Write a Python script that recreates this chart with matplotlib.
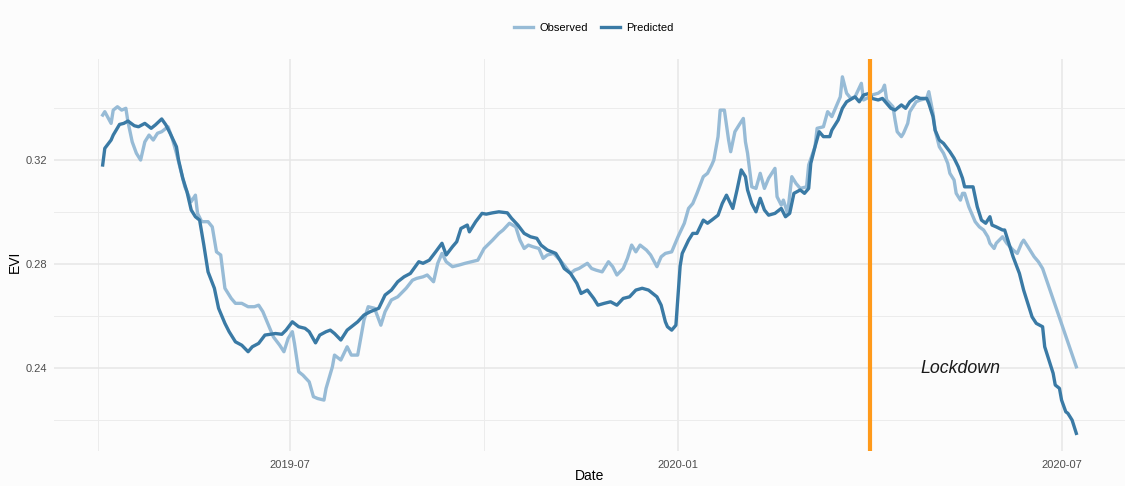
import matplotlib
matplotlib.use('Agg')
import matplotlib.pyplot as plt
import matplotlib.dates as mdates
from matplotlib.lines import Line2D
import pandas as pd

plt.rcParams['font.family'] = ['Liberation Sans', 'DejaVu Sans']

# ---- data (days since 2019-04-01, EVI) ----
base_date = '2019-04-01'
pred_day = [2, 3, 6, 7, 10, 12, 14, 17, 19, 22, 25, 27, 30, 32, 34, 37, 38, 40, 42, 44,
            46, 48, 50, 52, 55, 57, 60, 62, 65, 68, 71, 73, 76, 79, 84, 87, 89, 92, 95, 98,
            100, 103, 105, 108, 110, 112, 115, 118, 120, 123, 126, 129, 133, 136, 139, 142, 145, 148, 152, 154,
            157, 160, 163, 165, 168, 170, 172, 175, 176, 179, 182, 184, 187, 190, 194, 196, 199, 202, 205, 208,
            210, 213, 217, 219, 221, 224, 227, 229, 232, 235, 237, 240, 243, 246, 249, 252, 255, 258, 261, 265,
            267, 269, 270, 272, 274, 275, 276, 277, 280, 282, 284, 287, 289, 291, 294, 296, 298, 301, 303, 305,
            307, 308, 310, 312, 314, 316, 318, 321, 324, 326, 328, 330, 333, 335, 337, 338, 340, 342, 344, 347,
            348, 351, 353, 355, 359, 361, 363, 366, 367, 370, 372, 374, 376, 378, 381, 383, 385, 388, 390, 393,
            394, 396, 397, 399, 401, 404, 406, 408, 410, 411, 415, 417, 419, 421, 423, 424, 426, 429, 430, 432,
            434, 437, 439, 441, 443, 445, 448, 449, 451, 453, 454, 456, 457, 459, 460, 462, 464]
pred_evi = [0.3181, 0.3245, 0.3277, 0.3296, 0.3337, 0.3341, 0.3350, 0.3332, 0.3328, 0.3341,
            0.3322, 0.3335, 0.3358, 0.3335, 0.3303, 0.3251, 0.3200, 0.3130, 0.3078, 0.3008,
            0.2982, 0.2969, 0.2873, 0.2770, 0.2707, 0.2630, 0.2572, 0.2540, 0.2501, 0.2488,
            0.2463, 0.2482, 0.2495, 0.2527, 0.2533, 0.2530, 0.2546, 0.2578, 0.2559, 0.2553,
            0.2540, 0.2497, 0.2527, 0.2540, 0.2546, 0.2533, 0.2508, 0.2546, 0.2559, 0.2578,
            0.2604, 0.2617, 0.2630, 0.2681, 0.2700, 0.2732, 0.2751, 0.2764, 0.2809, 0.2803,
            0.2815, 0.2847, 0.2880, 0.2835, 0.2867, 0.2886, 0.2937, 0.2950, 0.2924, 0.2963,
            0.2995, 0.2992, 0.2997, 0.3001, 0.2997, 0.2976, 0.2950, 0.2918, 0.2905, 0.2899,
            0.2873, 0.2854, 0.2841, 0.2815, 0.2783, 0.2764, 0.2726, 0.2687, 0.2700, 0.2668,
            0.2642, 0.2649, 0.2655, 0.2642, 0.2668, 0.2674, 0.2700, 0.2707, 0.2700, 0.2674,
            0.2642, 0.2578, 0.2559, 0.2546, 0.2565, 0.2681, 0.2792, 0.2841, 0.2892, 0.2918,
            0.2918, 0.2969, 0.2957, 0.2969, 0.2988, 0.3033, 0.3065, 0.3014, 0.3085, 0.3162,
            0.3136, 0.3085, 0.3033, 0.3001, 0.3053, 0.3008, 0.2988, 0.2995, 0.3014, 0.2982,
            0.2995, 0.3072, 0.3085, 0.3072, 0.3091, 0.3187, 0.3251, 0.3309, 0.3290, 0.3290,
            0.3315, 0.3354, 0.3399, 0.3424, 0.3443, 0.3424, 0.3450, 0.3457, 0.3437, 0.3431,
            0.3437, 0.3418, 0.3399, 0.3392, 0.3412, 0.3399, 0.3424, 0.3443, 0.3437, 0.3437,
            0.3418, 0.3367, 0.3315, 0.3277, 0.3264, 0.3232, 0.3207, 0.3174, 0.3130, 0.3097,
            0.3097, 0.3020, 0.2969, 0.2957, 0.2982, 0.2950, 0.2943, 0.2931, 0.2931, 0.2880,
            0.2828, 0.2764, 0.2700, 0.2649, 0.2597, 0.2572, 0.2559, 0.2482, 0.2431, 0.2380,
            0.2335, 0.2322, 0.2277, 0.2232, 0.2226, 0.2200, 0.2149]

obs_day = [2, 3, 6, 7, 9, 11, 13, 14, 16, 18, 20, 22, 24, 26, 28, 30, 33, 35, 37, 39,
           41, 44, 46, 47, 49, 52, 54, 56, 58, 60, 63, 65, 68, 71, 74, 76, 78, 80, 83, 86,
           88, 90, 92, 93, 95, 97, 100, 102, 104, 107, 108, 111, 112, 115, 118, 120, 123, 126, 128, 131,
           134, 136, 139, 142, 146, 149, 151, 154, 156, 159, 161, 163, 165, 168, 171, 174, 177, 180, 183, 187,
           190, 192, 195, 198, 200, 202, 204, 206, 209, 211, 213, 216, 219, 221, 224, 226, 228, 232, 234, 236,
           239, 242, 244, 246, 249, 251, 253, 255, 257, 260, 262, 265, 267, 269, 272, 275, 278, 280, 282, 284,
           287, 289, 291, 292, 294, 295, 297, 299, 300, 302, 304, 306, 307, 308, 310, 312, 314, 316, 318, 321,
           322, 324, 325, 327, 329, 331, 333, 336, 337, 340, 341, 344, 346, 348, 350, 352, 353, 355, 357, 359,
           362, 363, 366, 367, 370, 372, 373, 374, 377, 378, 379, 381, 382, 384, 385, 388, 390, 393, 394, 396,
           397, 399, 401, 403, 404, 406, 407, 409, 410, 411, 413, 415, 416, 418, 420, 422, 423, 425, 426, 429,
           431, 434, 436, 438, 439, 441, 444, 446, 448, 464]
obs_evi = [0.3373, 0.3386, 0.3341, 0.3392, 0.3405, 0.3392, 0.3399, 0.3347, 0.3270, 0.3226,
           0.3200, 0.3270, 0.3296, 0.3277, 0.3303, 0.3309, 0.3328, 0.3283, 0.3226, 0.3162,
           0.3097, 0.3040, 0.3065, 0.2995, 0.2963, 0.2963, 0.2943, 0.2847, 0.2835, 0.2707,
           0.2668, 0.2649, 0.2649, 0.2636, 0.2636, 0.2642, 0.2617, 0.2578, 0.2520, 0.2488,
           0.2463, 0.2514, 0.2540, 0.2495, 0.2386, 0.2373, 0.2347, 0.2290, 0.2283, 0.2277,
           0.2322, 0.2405, 0.2450, 0.2431, 0.2482, 0.2450, 0.2450, 0.2585, 0.2636, 0.2630,
           0.2565, 0.2617, 0.2662, 0.2674, 0.2707, 0.2738, 0.2745, 0.2751, 0.2758, 0.2732,
           0.2803, 0.2841, 0.2809, 0.2790, 0.2796, 0.2803, 0.2809, 0.2815, 0.2860, 0.2892,
           0.2918, 0.2931, 0.2957, 0.2943, 0.2892, 0.2860, 0.2873, 0.2867, 0.2860, 0.2822,
           0.2835, 0.2841, 0.2815, 0.2796, 0.2764, 0.2777, 0.2783, 0.2803, 0.2783, 0.2777,
           0.2770, 0.2809, 0.2790, 0.2758, 0.2783, 0.2822, 0.2873, 0.2847, 0.2873, 0.2854,
           0.2835, 0.2790, 0.2828, 0.2841, 0.2847, 0.2905, 0.2957, 0.3014, 0.3033, 0.3072,
           0.3136, 0.3149, 0.3181, 0.3200, 0.3290, 0.3392, 0.3392, 0.3277, 0.3232, 0.3309,
           0.3335, 0.3360, 0.3270, 0.3226, 0.3097, 0.3091, 0.3149, 0.3091, 0.3130, 0.3168,
           0.3059, 0.3027, 0.3046, 0.2995, 0.3136, 0.3110, 0.3091, 0.3097, 0.3181, 0.3251,
           0.3322, 0.3328, 0.3386, 0.3367, 0.3405, 0.3443, 0.3520, 0.3457, 0.3437, 0.3443,
           0.3495, 0.3431, 0.3443, 0.3450, 0.3457, 0.3469, 0.3488, 0.3431, 0.3405, 0.3354,
           0.3309, 0.3290, 0.3303, 0.3341, 0.3386, 0.3424, 0.3431, 0.3437, 0.3463, 0.3380,
           0.3315, 0.3251, 0.3226, 0.3187, 0.3149, 0.3123, 0.3072, 0.3046, 0.3072, 0.3072,
           0.3020, 0.2982, 0.2963, 0.2943, 0.2931, 0.2905, 0.2880, 0.2860, 0.2880, 0.2905,
           0.2880, 0.2854, 0.2841, 0.2880, 0.2892, 0.2867, 0.2828, 0.2809, 0.2783, 0.2405]

series_names = ['Observed', 'Predicted']
series_colors = ['#97bbd6', '#3a7aa5']
lockdown_date = '2020-04-01'
lockdown_label = 'Lockdown'
lockdown_label_date = '2020-05-14'
lockdown_label_y = 0.24
y_major = [0.24, 0.28, 0.32]
y_minor = [0.22, 0.26, 0.30, 0.34]
x_major = ['2019-07-01', '2020-01-01', '2020-07-01']
x_major_labels = ['2019-07', '2020-01', '2020-07']
x_minor = ['2019-04-01', '2019-10-01', '2020-04-01']

# ---- build ----
b = pd.Timestamp(base_date)
obs_dates = b + pd.to_timedelta(obs_day, unit='D')
pred_dates = b + pd.to_timedelta(pred_day, unit='D')

W, H = 1125, 486
fig = plt.figure(figsize=(W / 100, H / 100), dpi=100)
bg = '#fcfcfc'
fig.patch.set_facecolor(bg)
left, right, top, bottom = 54, 1125, 59, 451.2
ax = fig.add_axes([left / W, 1 - bottom / H, (right - left) / W, (bottom - top) / H])
ax.set_facecolor(bg)

ax.plot(obs_dates, obs_evi, color=series_colors[0], lw=2.4, solid_joinstyle='round', zorder=3)
ax.plot(pred_dates, pred_evi, color=series_colors[1], lw=2.4, solid_joinstyle='round', zorder=4)
ax.axvline(pd.Timestamp(lockdown_date), color='#ff9a1a', lw=3.0, zorder=5)
ax.text(pd.Timestamp(lockdown_label_date), lockdown_label_y, lockdown_label, fontsize=12.8,
        style='italic', ha='center', va='center', color='#1a1a1a', zorder=6)

# limits with 5% expansion
all_d = list(obs_dates) + list(pred_dates)
dmin, dmax = min(all_d), max(all_d)
span = dmax - dmin
ax.set_xlim(dmin - 0.05 * span, dmax + 0.05 * span)
all_v = obs_evi + pred_evi
vmin, vmax = min(all_v), max(all_v)
ax.set_ylim(vmin - 0.05 * (vmax - vmin), vmax + 0.05 * (vmax - vmin))

ax.set_xticks(pd.to_datetime(x_major))
ax.set_xticklabels(x_major_labels)
ax.set_xticks(pd.to_datetime(x_minor), minor=True)
ax.set_yticks(y_major)
ax.set_yticklabels([f'{v:.2f}' for v in y_major])
ax.set_yticks(y_minor, minor=True)

ax.grid(which='major', color='#e6e6e6', lw=1.1, zorder=0)
ax.grid(which='minor', color='#ececec', lw=0.7, zorder=0)
ax.set_axisbelow(True)
ax.tick_params(which='both', length=0)
ax.tick_params(axis='x', pad=6, labelsize=8, labelcolor='#4d4d4d')
ax.tick_params(axis='y', pad=5, labelsize=8, labelcolor='#4d4d4d')
for s in ax.spines.values():
    s.set_visible(False)

fig.text(590 / W, 1 - 476 / H, 'Date', ha='center', va='center', fontsize=10, color='black')
fig.text(15 / W, 1 - 262 / H, 'EVI', ha='center', va='center', rotation=90, fontsize=10, color='black')

handles = [Line2D([0], [0], color=c, lw=2.4) for c in series_colors]
fig.legend(handles, series_names, loc='center', bbox_to_anchor=(594 / W, 1 - 28 / H), ncol=2,
           frameon=False, fontsize=8, handlelength=1.7, handletextpad=0.6, columnspacing=1.1)

fig.savefig('out.png', dpi=100, facecolor=bg)
